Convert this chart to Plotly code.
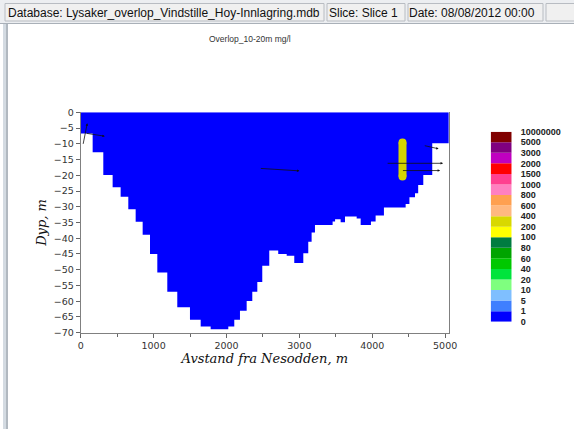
import plotly.graph_objects as go

W, H = 574, 429

# ---- Data ----
# Bottom (bathymetry) step profile along the section
distance_m = [0, 164, 310, 438, 548, 653, 754, 850, 951, 1051,
              1188, 1325, 1499, 1646, 1783, 2025, 2107, 2185, 2277, 2354,
              2423, 2491, 2587, 2710, 2826, 2930, 3054, 3122, 3168, 3214,
              3456, 3490, 3566, 3626, 3786, 3841, 3982, 4046, 4160, 4458,
              4510, 4586, 4630, 4700, 4823, 5050]
bottom_depth_m = [-6.7, -12.7, -19.9, -23.8, -26.8, -30.8, -34.8, -38.9, -45, -50.9,
                  -57, -61.9, -65.9, -68, -68.9, -68, -65.9, -63, -59.9, -57,
                  -53.9, -48.7, -43.9, -45, -45.6, -47.9, -44.8, -41.1, -38.2, -35.8,
                  -34.7, -34, -34.9, -33.1, -33.7, -35.8, -34.7, -32.8, -30.2, -29.1,
                  -27, -25.7, -23.1, -19.9, -9.8, -9.8]

# Concentration patch (200-400 mg/l class)
patch_x = [4415, 4415]
patch_depth = [-9.6, -20.4]

# Prominent current vectors: start/end points
vec_x0 = [4700, 4190, 4400, 2450, 60, 30]
vec_y0 = [-10.5, -16.2, -18.5, -17.8, -6.6, -10.5]
vec_x1 = [4910, 4970, 4930, 3000, 330, 90]
vec_y1 = [-11.6, -16.2, -18.5, -18.6, -7.6, -3.5]

# Legend classes (bottom to top)
legend_labels = ["0", "1", "5", "10", "20", "40", "60", "80", "100", "200",
                 "400", "600", "800", "1000", "1500", "2000", "3000", "5000", "10000000"]
legend_colors = ["#0000ff", "#3f7fff", "#7fbfff", "#7fff7f", "#00e43c", "#00c800",
                 "#00a400", "#007c40", "#ffff00", "#d8d800", "#ffb880", "#ffa050",
                 "#ff80c0", "#ff4090", "#ff0000", "#c000c0", "#800080", "#800000"]

x_ticks = [0, 1000, 2000, 3000, 4000, 5000]
y_ticks = list(range(0, -75, -5))


def px(x):
    return x / W


def py(y):
    return 1 - y / H


fig = go.Figure()

# Water body (filled from the surface to the bottom profile)
fig.add_trace(go.Scatter(
    x=distance_m, y=bottom_depth_m, mode="lines", line_shape="hv",
    line=dict(width=0, color="#0000ff"), fill="tozeroy", fillcolor="#0000ff",
    hoverinfo="skip", showlegend=False, xaxis="x", yaxis="y"))

# Concentration patch
fig.add_trace(go.Scatter(
    x=patch_x, y=patch_depth, mode="lines+markers",
    line=dict(width=8, color="#d4d400"),
    marker=dict(size=8, color="#d4d400", line=dict(width=0)),
    hoverinfo="skip", showlegend=False, xaxis="x", yaxis="y"))

# Legend bar built from the class colours
n = len(legend_colors)
fig.add_trace(go.Bar(
    x=[0] * n, y=[1] * n, base=list(range(n)), width=1,
    marker=dict(color=legend_colors, line=dict(width=0)),
    hoverinfo="skip", showlegend=False, xaxis="x2", yaxis="y2"))

annotations = []
for a, b, c, d in zip(vec_x0, vec_y0, vec_x1, vec_y1):
    annotations.append(dict(
        x=c, y=d, ax=a, ay=b, xref="x", yref="y", axref="x", ayref="y",
        showarrow=True, arrowhead=2, arrowsize=0.6, arrowwidth=0.8,
        arrowcolor="#111111", text=""))

# Header bar texts
hdr_font = dict(family="Liberation Sans, Arial", size=12, color="#111111")
annotations += [
    dict(x=px(6), y=py(13), xref="paper", yref="paper", xanchor="left",
         yanchor="middle", showarrow=False, font=hdr_font,
         text="Database: Lysaker_overlop_Vindstille_Hoy-Innlagring.mdb"),
    dict(x=px(327), y=py(13), xref="paper", yref="paper", xanchor="left",
         yanchor="middle", showarrow=False, font=hdr_font, text="Slice: Slice 1"),
    dict(x=px(407), y=py(13), xref="paper", yref="paper", xanchor="left",
         yanchor="middle", showarrow=False, font=hdr_font,
         text="Date: 08/08/2012 00:00"),
    dict(x=px(249.5), y=py(39), xref="paper", yref="paper", xanchor="center",
         yanchor="middle", showarrow=False,
         font=dict(family="Liberation Sans, Arial", size=8.5, color="#333333"),
         text="Overlop_10-20m mg/l"),
]

shapes = [
    dict(type="rect", xref="paper", yref="paper", x0=0, x1=1, y0=py(24), y1=1,
         fillcolor="#eceef1", line=dict(width=0), layer="below"),
    dict(type="line", xref="paper", yref="paper", x0=0, x1=1, y0=py(23.5), y1=py(23.5),
         line=dict(color="#a9b0b8", width=1)),
]
for x0, x1 in [(5, 324), (327, 405), (408, 543), (546, 580)]:
    shapes.append(dict(type="rect", xref="paper", yref="paper",
                       x0=px(x0), x1=px(x1), y0=py(21), y1=py(3.5),
                       fillcolor="#f0f0f0", line=dict(color="#b8bcc2", width=1),
                       layer="below"))
shapes += [
    dict(type="rect", xref="paper", yref="paper", x0=px(3), x1=px(8), y0=0, y1=py(24),
         fillcolor="#d4dbe2", line=dict(width=0), layer="below"),
    dict(type="line", xref="paper", yref="paper", x0=px(7), x1=px(7), y0=0, y1=py(24),
         line=dict(color="#8e969e", width=1)),
]

tick_font = dict(family="DejaVu Sans", size=9.5, color="#333333")
title_font = dict(family="DejaVu Serif", size=13, color="#111111")

fig.update_layout(
    width=W, height=H,
    margin=dict(l=0, r=0, t=0, b=0, autoexpand=False),
    paper_bgcolor="white", plot_bgcolor="white",
    showlegend=False,
    xaxis=dict(domain=[px(80.7), px(448.8)], range=[0, 5050], automargin=False,
               tickvals=x_ticks, ticks="outside", ticklen=4, tickcolor="#666666",
               minor=dict(dtick=500, tick0=0, ticks="outside", ticklen=3,
                          tickcolor="#666666"),
               showline=True, linecolor="#808080", linewidth=1,
               showgrid=False, zeroline=False, tickfont=tick_font,
               title=dict(text="<i>Avstand fra Nesodden, m</i>", font=title_font,
                          standoff=0),
               anchor="y"),
    yaxis=dict(domain=[py(332.7), py(112.3)], range=[-70, 0], automargin=False,
               tickvals=y_ticks, ticks="outside", ticklen=4, tickcolor="#666666",
               showline=True, linecolor="#808080", linewidth=1, mirror=True,
               showgrid=False, zeroline=False, tickfont=tick_font,
               title=dict(text="<i>Dyp, m</i>", font=title_font, standoff=4),
               anchor="x"),
    xaxis2=dict(domain=[px(490.7), px(511.7)], range=[-0.5, 0.5], visible=False,
                anchor="y2", automargin=False),
    yaxis2=dict(domain=[py(321.7), py(131.7)], range=[0, n], anchor="x2",
                side="right", tickvals=list(range(n + 1)), ticktext=legend_labels,
                ticks="", showline=False, showgrid=False, zeroline=False,
                ticklabelstandoff=8, automargin=False,
                tickfont=dict(family="Liberation Sans, Arial", size=9,
                              color="#222222", weight="bold")),
    annotations=annotations,
    shapes=shapes,
)

fig.write_html("out.html")
